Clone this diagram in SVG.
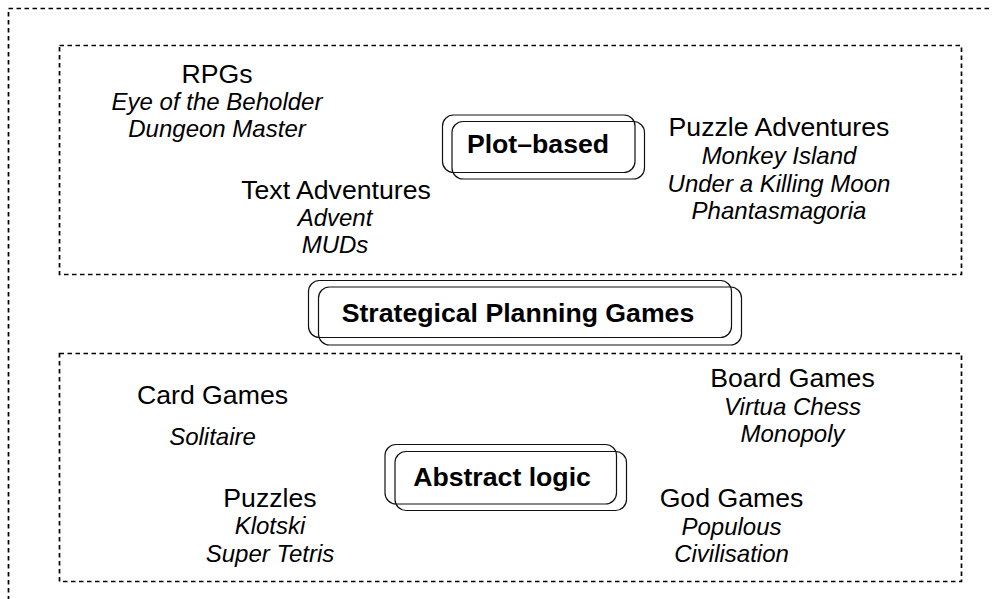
<svg xmlns="http://www.w3.org/2000/svg" width="992" height="599" viewBox="0 0 992 599">
<style>
.frame{fill:none;stroke:#000;stroke-width:1.7;stroke-dasharray:4.5 3.5}
.box{fill:none;stroke:#111;stroke-width:1.2}
text{font-family:"Liberation Sans",Arial,sans-serif;fill:#000;text-anchor:middle}
.h{font-size:26.67px}
.i{font-size:24px;font-style:italic}
.b{font-size:26.67px;font-weight:bold}
</style>
<rect width="992" height="599" fill="#fff"/>
<g id="frames">
<rect class="frame" x="8.5" y="8.5" width="1000" height="620"/>
<rect class="frame" x="59.5" y="45.5" width="902" height="229"/>
<rect class="frame" x="59.5" y="353.5" width="902" height="228"/>
</g>
<g id="plot-based">
<rect class="box" x="442.5" y="115" width="192.5" height="57.5" rx="11"/>
<rect class="box" x="452" y="121.5" width="192.5" height="57.5" rx="11"/>
<text class="b" x="538" y="153">Plot–based</text>
</g>
<g id="strategical">
<rect class="box" x="308.5" y="280.5" width="423" height="57" rx="11"/>
<rect class="box" x="318.5" y="287" width="423" height="58" rx="11"/>
<text class="b" x="518" y="322">Strategical Planning Games</text>
</g>
<g id="abstract-logic">
<rect class="box" x="385" y="444.5" width="231.5" height="59.5" rx="11"/>
<rect class="box" x="395" y="451.5" width="231.5" height="59" rx="11"/>
<text class="b" x="502" y="485.5">Abstract logic</text>
</g>
<g id="rpgs">
<text class="h" x="217" y="82.5">RPGs</text>
<text class="i" x="217" y="109.5">Eye of the Beholder</text>
<text class="i" x="217" y="137">Dungeon Master</text>
</g>
<g id="text-adventures">
<text class="h" x="336" y="198.5">Text Adventures</text>
<text class="i" x="335" y="225.7">Advent</text>
<text class="i" x="335" y="253">MUDs</text>
</g>
<g id="puzzle-adventures">
<text class="h" x="779" y="135.7">Puzzle Adventures</text>
<text class="i" x="779" y="164">Monkey Island</text>
<text class="i" x="779" y="191.7">Under a Killing Moon</text>
<text class="i" x="779" y="218.5">Phantasmagoria</text>
</g>
<g id="card-games">
<text class="h" x="212.5" y="404.3">Card Games</text>
<text class="i" x="212.5" y="445">Solitaire</text>
</g>
<g id="puzzles">
<text class="h" x="270" y="506.7">Puzzles</text>
<text class="i" x="270" y="534">Klotski</text>
<text class="i" x="270" y="561.7">Super Tetris</text>
</g>
<g id="board-games">
<text class="h" x="792.5" y="387.3">Board Games</text>
<text class="i" x="792.5" y="415">Virtua Chess</text>
<text class="i" x="792.5" y="441.7">Monopoly</text>
</g>
<g id="god-games">
<text class="h" x="731.5" y="507.3">God Games</text>
<text class="i" x="731.5" y="535">Populous</text>
<text class="i" x="731.5" y="561.7">Civilisation</text>
</g>
<g id="connectors"/>
</svg>
